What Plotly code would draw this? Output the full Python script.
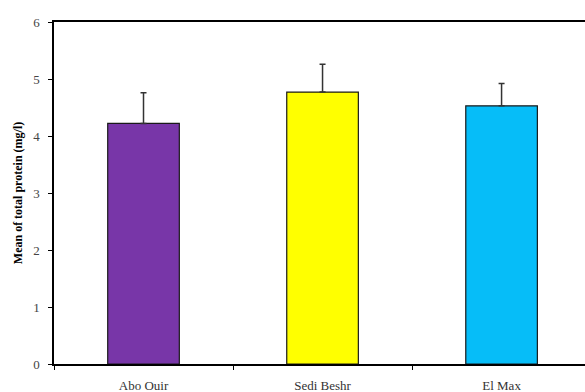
import plotly.graph_objects as go

# Mean total protein per site with upper standard-deviation whiskers
sites = ["Abo Ouir", "Sedi Beshr", "El Max"]
mean_protein = [4.22, 4.77, 4.53]
sd_protein = [0.54, 0.49, 0.39]
bar_colors = ["#7836A8", "#FFFF00", "#06BDF8"]
y_ticks = [0, 1, 2, 3, 4, 5, 6]

serif = "Liberation Serif"

fig = go.Figure()
fig.add_trace(go.Bar(
    x=sites,
    y=mean_protein,
    width=0.4,
    marker=dict(color=bar_colors, line=dict(color="#1a1a1a", width=1.2)),
    error_y=dict(type="data", array=sd_protein, symmetric=False,
                 arrayminus=[0] * len(sd_protein),
                 color="#333333", thickness=1.5, width=3),
    showlegend=False,
))

fig.update_layout(
    width=585, height=392,
    margin=dict(l=54, r=0, t=22, b=28),
    paper_bgcolor="white", plot_bgcolor="white",
    font=dict(family=serif, color="#333333", size=12),
    bargap=0.6,
)
fig.update_xaxes(
    range=[-0.5, 2.466],
    showline=True, linecolor="#000000", linewidth=1.5, mirror=True,
    ticks="outside", tickson="boundaries", ticklen=4, tickcolor="#000000",
    ticklabelstandoff=9,
    showgrid=False, zeroline=False,
    tickfont=dict(family=serif, size=13, color="#333333"),
)
fig.update_yaxes(
    range=[0, 6], tickvals=y_ticks,
    showline=True, linecolor="#000000", linewidth=1.5,
    ticks="outside", ticklen=4, tickcolor="#000000",
    ticklabelstandoff=6,
    showgrid=False, zeroline=False,
    tickfont=dict(family=serif, size=13, color="#444444"),
    title=dict(text="<b>Mean of total protein (mg/l)</b>",
               font=dict(family=serif, size=12, color="#000000"), standoff=8),
)

fig.write_html("out.html")
